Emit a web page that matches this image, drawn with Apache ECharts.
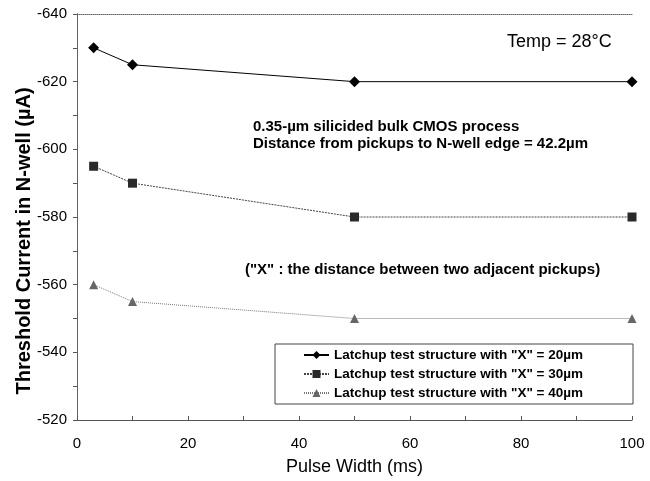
<!DOCTYPE html>
<html><head><meta charset="utf-8">
<script src="https://cdn.jsdelivr.net/npm/echarts@6/dist/echarts.min.js"></script>
<style>html,body{margin:0;padding:0;background:#fff}#c{width:650px;height:481px}</style>
</head><body><div id="c"></div>
<script>
const pulseWidth = [3, 10, 50, 100];
const x20 = [-630, -625, -620, -620];
const x30 = [-595, -590, -580, -580];
const x40 = [-560, -555, -550, -550];
const seriesNames = ['Latchup test structure with "X" = 20µm','Latchup test structure with "X" = 30µm','Latchup test structure with "X" = 40µm'];
const F = 'Liberation Sans, Arial, sans-serif';
const pair = (ys) => pulseWidth.map((x, i) => [x, ys[i]]);
const chart = echarts.init(document.getElementById('c'));
chart.setOption({
  animation: false,
  textStyle: {fontFamily: F},
  grid: {left: 77, right: 18, top: 14, bottom: 61, containLabel: false},
  legend: {
    orient: 'vertical', left: 275, top: 344,
    padding: [4, 50, 4, 28], itemGap: 5, itemWidth: 25, itemHeight: 10,
    borderColor: '#444', borderWidth: 1, backgroundColor: '#fff',
    textStyle: {fontFamily: F, fontWeight: 'bold', fontSize: 13.5, color: '#000'},
    data: seriesNames
  },
  xAxis: [{
    type: 'value', min: 0, max: 100, interval: 20,
    name: 'Pulse Width (ms)', nameLocation: 'middle', nameGap: 38,
    nameTextStyle: {fontFamily: F, fontSize: 18, color: '#000'},
    axisLine: {show: true, lineStyle: {color: '#555', width: 1}},
    axisTick: {show: true, inside: true, length: 4, lineStyle: {color: '#555'}},
    minorTick: {show: true, splitNumber: 2, length: 4, lineStyle: {color: '#555'}},
    axisLabel: {fontFamily: F, fontSize: 15, color: '#000', margin: 16},
    splitLine: {show: false}
  }, {
    type: 'value', position: 'top', min: 0, max: 100,
    axisLine: {show: true, lineStyle: {color: '#666', type: 'dotted', width: 1}},
    axisTick: {show: false}, axisLabel: {show: false}, splitLine: {show: false}
  }],
  yAxis: [{
    type: 'value', inverse: true, min: -640, max: -520, interval: 20,
    axisLine: {show: true, lineStyle: {color: '#555', width: 1}},
    axisTick: {show: true, inside: false, length: 4, lineStyle: {color: '#555'}},
    minorTick: {show: true, splitNumber: 2, length: 4, lineStyle: {color: '#555'}},
    axisLabel: {fontFamily: F, fontSize: 15, color: '#000', margin: 10},
    splitLine: {show: false}
  }, {
    type: 'value', position: 'right', inverse: true, min: -640, max: -520,
    axisLine: {show: true, lineStyle: {color: '#666', type: 'dotted', width: 1}},
    axisTick: {show: false}, axisLabel: {show: false}, splitLine: {show: false}
  }],
  series: [{
    name: seriesNames[0], type: 'line', data: pair(x20),
    symbol: 'diamond', symbolSize: 11,
    lineStyle: {color: '#000', width: 1},
    itemStyle: {color: '#000'}
  }, {
    name: seriesNames[1], type: 'line', data: pair(x30),
    symbol: 'rect', symbolSize: 9,
    lineStyle: {color: '#444', width: 1, type: [2, 1]},
    itemStyle: {color: '#2a2a2a'}
  }, {
    name: seriesNames[2], type: 'line', data: pair(x40),
    symbol: 'triangle', symbolSize: 9,
    lineStyle: {color: '#777', width: 1, type: [1, 1]},
    itemStyle: {color: '#666'}
  }],
  graphic: [
    {type: 'text', x: 24, y: 241, rotation: Math.PI / 2,
     style: {text: 'Threshold Current in N-well (µA)', font: 'bold 20px ' + F, fill: '#000', align: 'center', verticalAlign: 'middle'}},
    {type: 'text', left: 507, top: 33, style: {text: 'Temp = 28°C', font: '18px ' + F, fill: '#000'}},
    {type: 'text', left: 253, top: 119, style: {text: '0.35-µm silicided bulk CMOS process', font: 'bold 15px ' + F, fill: '#000'}},
    {type: 'text', left: 253, top: 136, style: {text: 'Distance from pickups to N-well edge = 42.2µm', font: 'bold 15px ' + F, fill: '#000'}},
    {type: 'text', left: 245, top: 262, style: {text: '("X" : the distance between two adjacent pickups)', font: 'bold 15px ' + F, fill: '#000'}}
  ]
});
</script></body></html>
